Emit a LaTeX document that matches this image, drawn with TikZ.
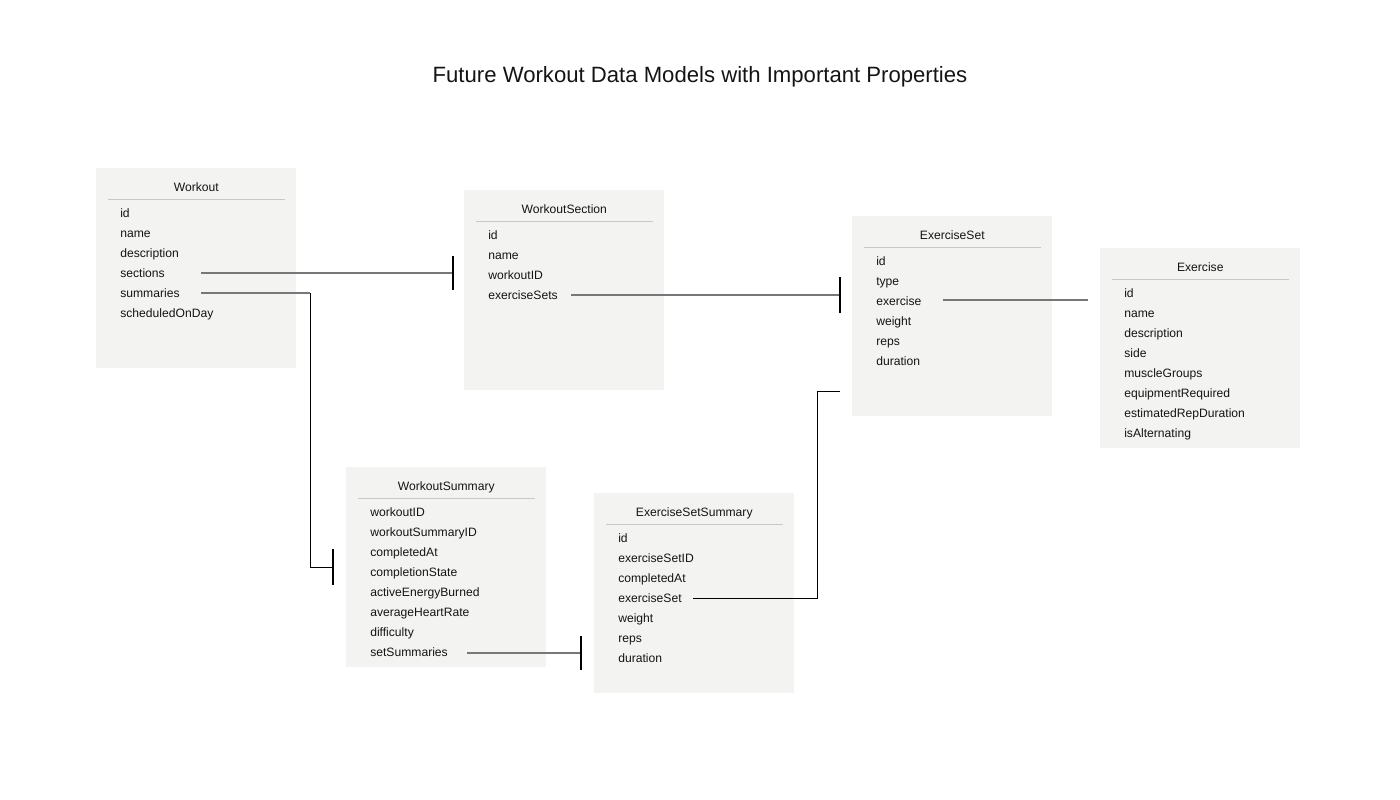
\documentclass[tikz,border=0pt]{standalone}
\usepackage{fontspec}
\setmainfont{Liberation Sans}
\usetikzlibrary{calc}
\definecolor{boxfill}{HTML}{F3F3F2}
\definecolor{sepcol}{HTML}{C8C8C8}
\definecolor{txt}{HTML}{141414}
\definecolor{glink}{HTML}{777777}
\tikzset{
  ebox/.style={fill=boxfill, draw=none, minimum width=150pt, minimum height=150pt, inner sep=0pt},
  etitle/.style={font=\fontsize{9.1}{11}\selectfont, text=txt, inner sep=0pt},
  fld/.style={font=\fontsize{9.1}{11}\selectfont, text=txt, inner sep=0pt},
  sepline/.style={draw=sepcol, line width=0.75pt},
  glinkline/.style={draw=glink, line width=1.5pt},
  blinkline/.style={draw=black, line width=0.7pt},
  barline/.style={draw=black, line width=0.85pt},
  ttl/.style={font=\fontsize{16.6}{19}\selectfont, text=txt, inner sep=0pt}
}
\newcommand\entity[5]{%
  \node[ebox, anchor=north west] (#1) at (#2,#3) {};
  \node[etitle, anchor=base] (#1-t) at ($(#1.north)+(0,23.5)$) {#4};
  \draw[sepline] ($(#1.north west)+(12,31)$) -- ($(#1.north east)+(-12,31)$);
  \foreach \f [count=\i] in {#5} {
    \node[fld, anchor=base west] (#1-\i) at ($(#1.north west)+(24,{29.5+20*\i})$) {\f};
  }
}
\begin{document}
\begin{tikzpicture}[x=0.75pt,y=-0.75pt]
\useasboundingbox (0,0) rectangle (1400,800);
\node[ttl, anchor=base] (title) at (700,82) {Future Workout Data Models with Important Properties};

\entity{wo}{96}{168}{Workout}{id,name,description,sections,summaries,scheduledOnDay}
\entity{wsec}{464}{190}{WorkoutSection}{id,name,workoutID,exerciseSets}
\entity{eset}{852}{216}{ExerciseSet}{id,type,exercise,weight,reps,duration}
\entity{ex}{1100}{248}{Exercise}{id,name,description,side,muscleGroups,equipmentRequired,estimatedRepDuration,isAlternating}
\entity{wsum}{346}{467}{WorkoutSummary}{workoutID,workoutSummaryID,completedAt,completionState,activeEnergyBurned,averageHeartRate,difficulty,setSummaries}
\entity{ess}{594}{493}{ExerciseSetSummary}{id,exerciseSetID,completedAt,exerciseSet,weight,reps,duration}

% connector endpoints
\coordinate (s1) at (201,273);
\coordinate (e1) at (453,273);
\coordinate (s2) at (201,293);
\coordinate (k2) at (310,293);
\coordinate (m2) at (310,567);
\coordinate (e2) at (333,567);
\coordinate (s3) at (571,295);
\coordinate (e3) at (840,295);
\coordinate (s4) at (943,300);
\coordinate (e4) at (1088,300);
\coordinate (s5) at (693,598);
\coordinate (k5) at (817,598);
\coordinate (m5) at (817,391);
\coordinate (e5) at (840,391);
\coordinate (s6) at (467,653);
\coordinate (e6) at (581,653);

% sections -> WorkoutSection
\draw[glinkline] (s1) -- (e1);
\draw[barline] ($(e1)+(0,-17)$) -- ($(e1)+(0,17)$);
% summaries -> WorkoutSummary
\draw[glinkline] (s2) -- (k2);
\draw[blinkline] (k2) -- (m2) -- (e2);
\draw[barline] ($(e2)+(0,-18)$) -- ($(e2)+(0,18)$);
% exerciseSets -> ExerciseSet
\draw[glinkline] (s3) -- (e3);
\draw[barline] ($(e3)+(0,-18)$) -- ($(e3)+(0,18)$);
% exercise -> Exercise
\draw[glinkline] (s4) -- (e4);
% exerciseSet -> ExerciseSet
\draw[blinkline] (s5) -- (k5) -- (m5) -- (e5);
% setSummaries -> ExerciseSetSummary
\draw[glinkline] (s6) -- (e6);
\draw[barline] ($(e6)+(0,-17)$) -- ($(e6)+(0,17)$);
\end{tikzpicture}
\end{document}
